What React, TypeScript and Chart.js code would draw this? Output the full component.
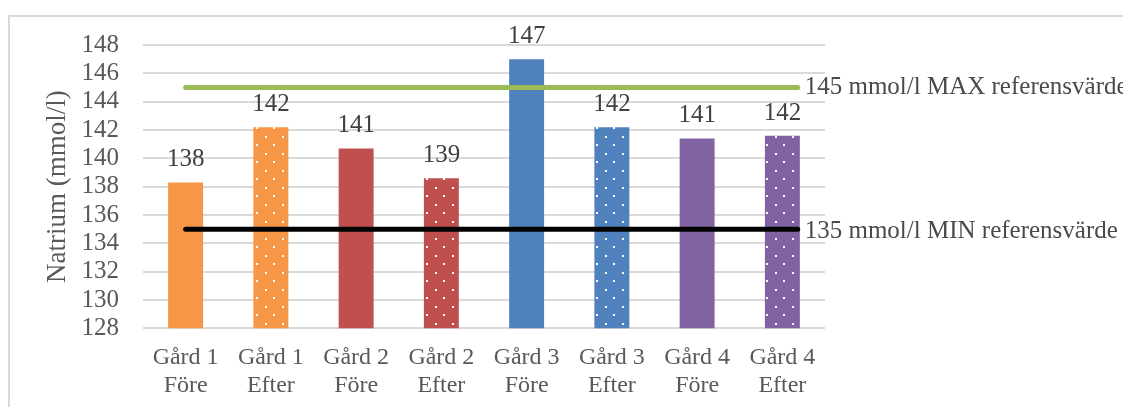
import React, { useEffect, useRef } from "react";
import { Chart, registerables } from "chart.js";

Chart.register(...registerables);

// Farm sampling points (two-line axis labels)
const categories: string[][] = [
  ["Gård 1", "Före"],
  ["Gård 1", "Efter"],
  ["Gård 2", "Före"],
  ["Gård 2", "Efter"],
  ["Gård 3", "Före"],
  ["Gård 3", "Efter"],
  ["Gård 4", "Före"],
  ["Gård 4", "Efter"],
];

// Sodium concentration (mmol/l)
const natrium: number[] = [138.3, 142.2, 140.7, 138.6, 147.0, 142.2, 141.4, 141.6];

const barColors: string[] = [
  "#F79646", "#F79646",
  "#C0504D", "#C0504D",
  "#4F81BD", "#4F81BD",
  "#8064A2", "#8064A2",
];

// "Efter" samples are drawn with a dotted fill
const dotted: boolean[] = [false, true, false, true, false, true, false, true];

// Reference limits
const maxRef = 145;
const minRef = 135;
const maxRefLabel = "145 mmol/l MAX referensvärde";
const minRefLabel = "135 mmol/l MIN referensvärde";
// Horizontal extent of the reference lines, in category units
const refFrom = 0;
const refTo = 7.18;

const yMin = 128;
const yMax = 148;
const yStep = 2;
const yTitle = "Natrium (mmol/l)";

const FONT = "'Liberation Serif', 'DejaVu Serif', serif";

function dotPattern(ctx: CanvasRenderingContext2D, color: string): CanvasPattern | string {
  const tile = document.createElement("canvas");
  tile.width = 17;
  tile.height = 17;
  const g = tile.getContext("2d");
  if (!g) return color;
  g.fillStyle = color;
  g.fillRect(0, 0, 17, 17);
  g.fillStyle = "#ffffff";
  g.fillRect(0, 0, 2, 2);
  g.fillRect(8, 8, 2, 2);
  return ctx.createPattern(tile, "repeat") || color;
}

const labelsPlugin = {
  id: "natriumLabels",
  afterDatasetsDraw(chart: any) {
    const ctx: CanvasRenderingContext2D = chart.ctx;
    const meta = chart.getDatasetMeta(0);
    ctx.save();
    ctx.font = `25px ${FONT}`;
    ctx.fillStyle = "#404040";
    ctx.textAlign = "center";
    ctx.textBaseline = "alphabetic";
    meta.data.forEach((bar: any, i: number) => {
      ctx.fillText(String(Math.round(natrium[i])), bar.x, bar.y - 16);
    });

    const xr = chart.scales.xr;
    const y = chart.scales.y;
    const lx = xr.getPixelForValue(refTo) + 7;
    ctx.textAlign = "left";
    ctx.textBaseline = "middle";
    ctx.fillStyle = "#4a4a4a";
    ctx.fillText(maxRefLabel, lx, y.getPixelForValue(maxRef));
    ctx.fillText(minRefLabel, lx, y.getPixelForValue(minRef) + 2);
    ctx.restore();
  },
};

export default function App() {
  const canvasRef = useRef<HTMLCanvasElement | null>(null);

  useEffect(() => {
    const canvas = canvasRef.current;
    if (!canvas) return;
    const ctx = canvas.getContext("2d");
    if (!ctx) return;

    const fills = barColors.map((c, i) => (dotted[i] ? dotPattern(ctx, c) : c));

    const chart = new Chart(ctx, {
      type: "bar",
      data: {
        labels: categories,
        datasets: [
          {
            type: "bar",
            label: "Natrium",
            data: natrium,
            backgroundColor: fills as any,
            borderWidth: 0,
            barPercentage: 0.41,
            categoryPercentage: 1,
            grouped: false,
            order: 2,
          },
          {
            type: "line",
            label: maxRefLabel,
            xAxisID: "xr",
            data: [
              { x: refFrom, y: maxRef },
              { x: refTo, y: maxRef },
            ],
            borderColor: "#9BBB59",
            borderWidth: 5,
            borderCapStyle: "round",
            pointRadius: 0,
            order: 1,
          },
          {
            type: "line",
            label: minRefLabel,
            xAxisID: "xr",
            data: [
              { x: refFrom, y: minRef },
              { x: refTo, y: minRef },
            ],
            borderColor: "#000000",
            borderWidth: 5,
            borderCapStyle: "round",
            pointRadius: 0,
            order: 1,
          },
        ] as any,
      },
      options: {
        animation: false,
        responsive: false,
        maintainAspectRatio: false,
        layout: { padding: { top: 28, right: 306, left: 0, bottom: 0 } },
        plugins: {
          legend: { display: false },
          tooltip: { enabled: false },
        },
        scales: {
          x: {
            type: "category",
            offset: true,
            grid: { display: false, drawTicks: false },
            border: { display: false },
            ticks: {
              color: "#595959",
              font: { family: FONT, size: 24, lineHeight: 1.17 },
              padding: 15,
              maxRotation: 0,
              autoSkip: false,
            },
            afterFit(scale: any) {
              scale.height = 78.7;
            },
          },
          xr: {
            type: "linear",
            axis: "x",
            min: -0.5,
            max: 7.5,
            offset: false,
            display: false,
          },
          y: {
            min: yMin,
            max: yMax,
            grid: { color: "#D9D9D9", lineWidth: 2, drawTicks: false },
            border: { display: false },
            ticks: {
              stepSize: yStep,
              autoSkip: false,
              color: "#595959",
              font: { family: FONT, size: 25 },
              padding: 24,
            },
            title: {
              display: true,
              text: yTitle,
              color: "#595959",
              font: { family: FONT, size: 27, lineHeight: 1.2 },
              padding: { top: 32, bottom: 0 },
            },
            afterFit(scale: any) {
              scale.width = 133;
              scale.paddingTop = 0;
              scale.paddingBottom = 0;
            },
          },
        },
      } as any,
      plugins: [labelsPlugin],
    });

    return () => chart.destroy();
  }, []);

  return (
    <div
      style={{
        width: 1123,
        height: 392,
        marginTop: 7,
        overflow: "hidden",
        boxSizing: "border-box",
        borderTop: "2px solid #D9D9D9",
        borderLeft: "2px solid #D9D9D9",
        background: "#ffffff",
      }}
    >
      <canvas ref={canvasRef} width={1121} height={390} style={{ display: "block" }} />
    </div>
  );
}
